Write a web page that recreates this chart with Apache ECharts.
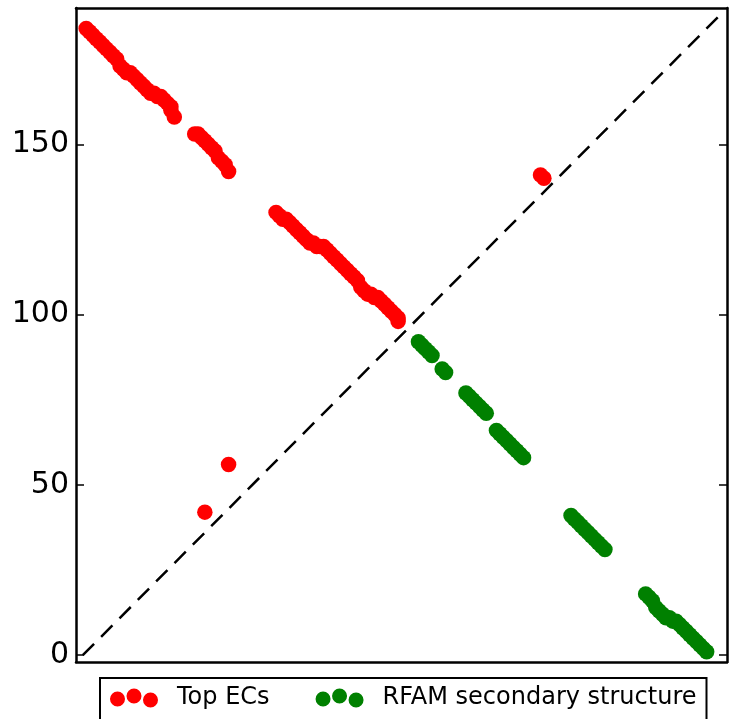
<!DOCTYPE html>
<html><head><meta charset="utf-8">
<script src="https://cdn.jsdelivr.net/npm/echarts@6/dist/echarts.min.js"></script>
<style>html,body{margin:0;padding:0;background:#fff}#c{width:731px;height:719px}</style>
</head><body><div id="c"></div>
<script>
const seriesNames = ['Top ECs', 'RFAM secondary structure'];
const topECs = [
  [1,184],[2,183],[3,182],[4,181],[5,180],[6,179],[7,178],[8,177],[9,176],[10,175],
  [11,173],[12,172],[13,171],[14,171],[15,170],[16,169],[17,168],[18,167],[19,166],[20,165],
  [21,165],[22,164],[23,164],[24,163],[25,162],[26,161],[26,160],[27,158],
  [33,153],[34,153],[35,152],[36,151],[37,150],[38,149],[39,148],[40,146],[41,145],[42,144],[43,142],
  [57,130],[58,129],[59,128],[60,128],[61,127],[62,126],[63,125],[64,124],[65,123],[66,122],
  [67,121],[68,121],[69,120],[70,120],[71,120],[72,119],[73,118],[74,117],[75,116],[76,115],
  [77,114],[78,113],[79,112],[80,111],[81,110],[82,108],[83,107],[84,106],[85,106],[86,105],
  [87,105],[88,104],[89,103],[90,102],[91,101],[92,100],[93,99],[93,98],
  [36,42],[43,56],[135,141],[136,140]
];
const rfamPairs = [
  [99,92],[100,91],[101,90],[102,89],[103,88],
  [106,84],[107,83],
  [113,77],[114,76],[115,75],[116,74],[117,73],[118,72],[119,71],
  [122,66],[123,65],[124,64],[125,63],[126,62],[127,61],[128,60],[129,59],[130,58],
  [144,41],[145,40],[146,39],[147,38],[148,37],[149,36],[150,35],[151,34],[152,33],[153,32],[154,31],
  [166,18],[167,17],[168,16],[169,14],[170,13],[171,12],[172,11],[173,11],[174,10],[175,10],
  [176,9],[177,8],[178,7],[179,6],[180,5],[181,4],[182,3],[183,2],[184,1]
];
const yTicks = [0, 50, 100, 150];
const axisRange = [-2, 190];
const diagonal = [[0, 0], [188, 188]];

const threeDots = 'path://M0,10.5 A7.5,7.5 0 1,1 15,10.5 A7.5,7.5 0 1,1 0,10.5 Z ' +
  'M16.5,7.5 A7.5,7.5 0 1,1 31.5,7.5 A7.5,7.5 0 1,1 16.5,7.5 Z ' +
  'M33,11.5 A7.5,7.5 0 1,1 48,11.5 A7.5,7.5 0 1,1 33,11.5 Z';
const font = 'DejaVu Sans';
const axisLine = { show: true, onZero: false, lineStyle: { color: '#000', width: 2.5 } };

const chart = echarts.init(document.getElementById('c'), null, { renderer: 'canvas' });
chart.setOption({
  animation: false,
  backgroundColor: '#fff',
  grid: { left: 76, right: 4, top: 8, bottom: 57, containLabel: false },
  legend: {
    data: seriesNames.map(n => ({ name: n, icon: threeDots })),
    left: 100, top: 678,
    itemWidth: 48, itemHeight: 19, itemGap: 46,
    borderColor: '#000', borderWidth: 2, borderRadius: 0,
    padding: [8, 10, 30, 10],
    textStyle: { fontSize: 24, fontFamily: font, color: '#000', padding: [0, 0, 0, 14] }
  },
  xAxis: [
    { type: 'value', min: axisRange[0], max: axisRange[1], position: 'bottom',
      axisLine: axisLine, axisTick: { show: false }, axisLabel: { show: false }, splitLine: { show: false } },
    { type: 'value', min: axisRange[0], max: axisRange[1], position: 'top',
      axisLine: axisLine, axisTick: { show: false }, axisLabel: { show: false }, splitLine: { show: false } }
  ],
  yAxis: [
    { type: 'value', min: axisRange[0], max: axisRange[1], position: 'left',
      axisLine: axisLine,
      axisTick: { show: true, inside: true, length: 8, lineStyle: { color: '#000', width: 1.5 }, customValues: yTicks },
      axisLabel: { show: true, fontSize: 30, fontFamily: font, color: '#000', margin: 7, customValues: yTicks },
      splitLine: { show: false } },
    { type: 'value', min: axisRange[0], max: axisRange[1], position: 'right',
      axisLine: axisLine,
      axisTick: { show: true, inside: true, length: 8, lineStyle: { color: '#000', width: 1.5 }, customValues: yTicks },
      axisLabel: { show: false }, splitLine: { show: false } }
  ],
  series: [
    { type: 'line', data: diagonal, symbol: 'none', silent: true, z: 1,
      lineStyle: { color: '#000', width: 2.5, type: [16, 10] } },
    { name: seriesNames[0], type: 'scatter', data: topECs, symbol: 'circle', symbolSize: 15.5, z: 3,
      itemStyle: { color: '#ff0000', opacity: 1 } },
    { name: seriesNames[1], type: 'scatter', data: rfamPairs, symbol: 'circle', symbolSize: 15.5, z: 3,
      itemStyle: { color: '#008000', opacity: 1 } }
  ]
});
</script></body></html>
